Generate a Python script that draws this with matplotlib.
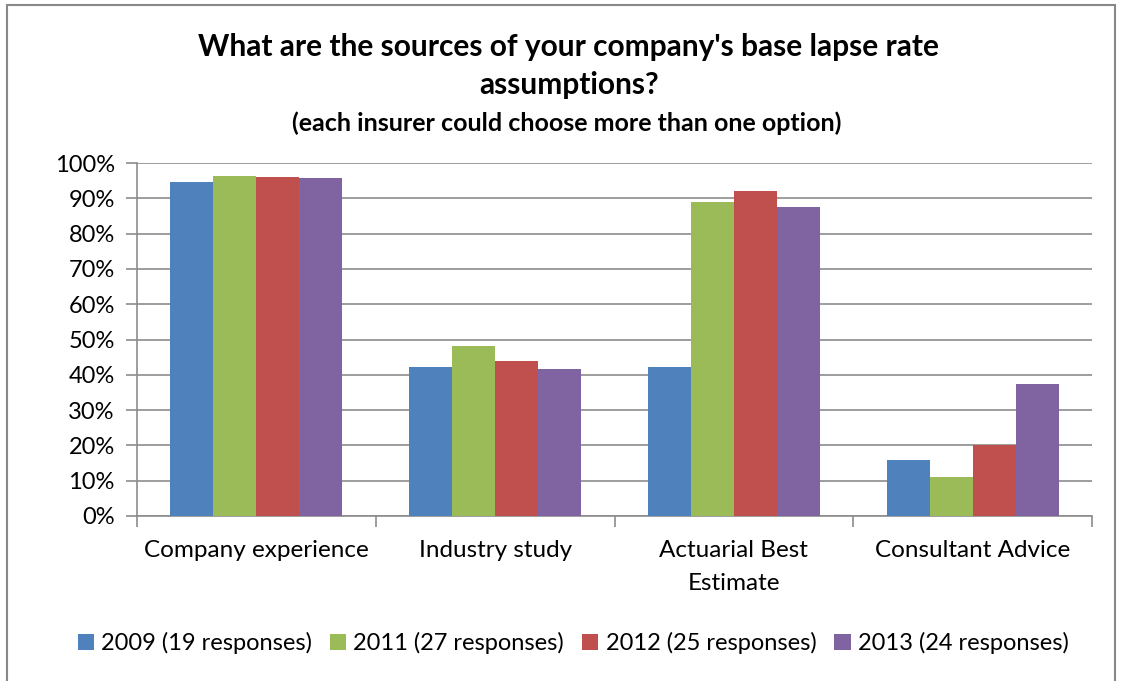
import numpy as np
import matplotlib
import matplotlib.pyplot as plt
from matplotlib.patches import Rectangle
matplotlib.use('Agg')

categories = ['Company experience', 'Industry study',
              'Actuarial Best\nEstimate', 'Consultant Advice']
series = ['2009 (19 responses)', '2011 (27 responses)',
          '2012 (25 responses)', '2013 (24 responses)']
values_2009 = [0.947, 0.421, 0.421, 0.158]
values_2011 = [0.963, 0.481, 0.889, 0.111]
values_2012 = [0.960, 0.440, 0.920, 0.200]
values_2013 = [0.958, 0.417, 0.875, 0.375]
colors = ['#4F81BD', '#9BBB59', '#C0504D', '#8064A2']

plt.rcParams['font.family'] = ['Lato', 'DejaVu Sans']

W, H = 1122, 681
fig = plt.figure(figsize=(W / 100, H / 100), dpi=100)
ax = fig.add_axes([137 / W, 1 - 516 / H, (1092 - 137) / W, (516 - 163) / H])

# outer chart frame
fig.patches.append(Rectangle((7 / W, -0.01), (1115 - 7) / W,
                             1 - 5 / H + 0.01, transform=fig.transFigure,
                             fill=False, edgecolor='#888888', lw=1.5))

x = np.arange(len(categories))
width = 0.18
all_values = [values_2009, values_2011, values_2012, values_2013]
for i, vals in enumerate(all_values):
    ax.bar(x + (i - 1.5) * width, vals, width, color=colors[i],
           label=series[i], zorder=3)

ax.set_xlim(-0.5, len(categories) - 0.5)
ax.set_ylim(0, 1)
yticks = np.arange(0, 1.01, 0.1)
ax.set_yticks(yticks)
ax.set_yticklabels([f'{int(round(v * 100))}%' for v in yticks], fontsize=17)
ax.yaxis.grid(True, color='#8c8c8c', lw=1.2, zorder=0)
ax.set_xticks(np.arange(-0.5, len(categories)))
ax.set_xticklabels([])
ax.set_xticks(x, minor=True)
ax.set_xticklabels(categories, minor=True, fontsize=17.5, linespacing=1.7)
ax.tick_params(axis='x', which='major', length=8, color='#8c8c8c', width=1.2)
ax.tick_params(axis='x', which='minor', length=0, pad=17)
ax.tick_params(axis='y', length=8, color='#8c8c8c', width=1.2, pad=8)
for side in ['top', 'right']:
    ax.spines[side].set_visible(False)
for side in ['left', 'bottom']:
    ax.spines[side].set_color('#8c8c8c')
    ax.spines[side].set_linewidth(1.2)

fig.text(569 / W, 1 - 47 / H,
         "What are the sources of your company's base lapse rate",
         ha='center', va='center', fontsize=21.5, fontweight='bold')
fig.text(569 / W, 1 - 85 / H, 'assumptions?',
         ha='center', va='center', fontsize=21.5, fontweight='bold')
fig.text(567 / W, 1 - 123 / H,
         '(each insurer could choose more than one option)',
         ha='center', va='center', fontsize=18, fontweight='bold')

fig.legend(loc='center', bbox_to_anchor=(573 / W, 1 - 643 / H), ncol=4,
           frameon=False, fontsize=17, handlelength=0.7, handleheight=0.7,
           handletextpad=0.3, columnspacing=0.75)

fig.savefig('out.png', dpi=100)
